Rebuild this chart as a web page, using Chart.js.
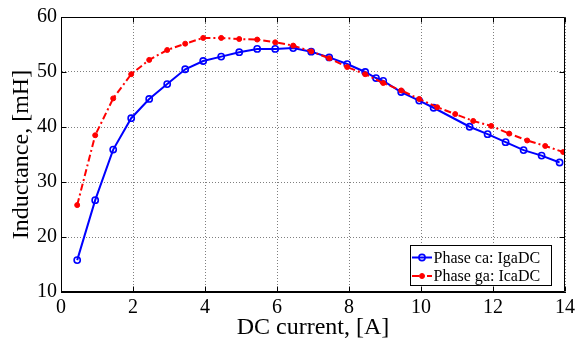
<!DOCTYPE html>
<html>
<head>
<meta charset="utf-8">
<script src="https://cdn.jsdelivr.net/npm/chart.js@4/dist/chart.umd.min.js"></script>
<style>
  html, body { margin: 0; padding: 0; background: #fff; }
  #wrap { width: 579px; height: 340px; position: relative; }
</style>
</head>
<body>
<div id="wrap"><canvas id="c" width="579" height="340"></canvas></div>
<script>
// DC current sweep [A] and measured inductance [mH] for the two phases
const currentCa = [0.45, 0.95, 1.45, 1.95, 2.45, 2.95, 3.45, 3.95, 4.45, 4.95, 5.45, 5.95, 6.45, 6.95,
                   7.45, 7.95, 8.45, 8.75, 8.95, 9.45, 9.95, 10.35, 11.35, 11.85, 12.35, 12.85, 13.35, 13.85];
const inductanceCa = [15.8, 26.7, 35.9, 41.6, 45.1, 47.8, 50.5, 52.0, 52.8, 53.6, 54.2, 54.2, 54.35, 53.7,
                      52.65, 51.45, 50.0, 48.9, 48.4, 46.35, 44.8, 43.5, 40.05, 38.7, 37.25, 35.8, 34.8, 33.55];

const currentGa = [0.45, 0.95, 1.45, 1.95, 2.45, 2.95, 3.45, 3.95, 4.45, 4.95, 5.45, 5.95, 6.45, 6.95,
                   7.45, 7.95, 8.45, 8.95, 9.45, 9.95, 10.45, 10.95, 11.45, 11.95, 12.45, 12.95, 13.45, 13.95];
const inductanceGa = [25.8, 38.5, 45.2, 49.6, 52.2, 54.0, 55.15, 56.2, 56.2, 56.0, 55.9, 55.4, 54.8, 53.75,
                      52.5, 50.9, 49.6, 48.0, 46.65, 45.1, 43.6, 42.35, 41.1, 40.2, 38.8, 37.55, 36.55, 35.45];

const seriesLabels = ['Phase ca: IgaDC', 'Phase ga: IcaDC'];
const xTicks = [0, 2, 4, 6, 8, 10, 12, 14];
const yTicks = [10, 20, 30, 40, 50, 60];

const FONT = '"Liberation Serif", "Times New Roman", serif';

const toPoints = (xs, ys) => xs.map((x, i) => ({ x: x, y: ys[i] }));

// Box frame, inward tick marks and the boxed legend
const framePlugin = {
  id: 'frame',
  afterDatasetsDraw(chart) {
    const { ctx, chartArea: a, scales } = chart;
    ctx.save();
    ctx.strokeStyle = '#000';
    ctx.lineWidth = 1;
    ctx.setLineDash([]);
    const L = Math.round(a.left) + 0.5, R = Math.round(a.right) - 0.5;
    const T = Math.round(a.top) + 0.5, B = Math.round(a.bottom) - 0.5;
    ctx.beginPath();
    ctx.rect(L, T, R - L, B - T);
    ctx.stroke();
    const tl = 5;
    ctx.beginPath();
    xTicks.forEach(v => {
      const px = Math.round(scales.x.getPixelForValue(v)) + 0.5;
      ctx.moveTo(px, B); ctx.lineTo(px, B - tl);
      ctx.moveTo(px, T); ctx.lineTo(px, T + tl);
    });
    yTicks.forEach(v => {
      const py = Math.round(scales.y.getPixelForValue(v)) + 0.5;
      ctx.moveTo(L, py); ctx.lineTo(L + tl, py);
      ctx.moveTo(R, py); ctx.lineTo(R - tl, py);
    });
    ctx.stroke();
    ctx.restore();
  },
  afterDraw(chart) {
    const { ctx, chartArea: a } = chart;
    const w = 141, h = 40;
    const bx = Math.round(a.right - 14 - w) + 0.5;
    const by = Math.round(a.bottom - 7 - h) + 0.5;
    ctx.save();
    ctx.fillStyle = '#fff';
    ctx.fillRect(bx, by, w, h);
    ctx.strokeStyle = '#000';
    ctx.lineWidth = 1;
    ctx.setLineDash([]);
    ctx.strokeRect(bx, by, w, h);
    ctx.font = '16px ' + FONT;
    ctx.textBaseline = 'middle';
    ctx.textAlign = 'left';
    chart.data.datasets.forEach((ds, i) => {
      const ry = by + 12 + i * 18.5;
      const x0 = bx + 1.5, x1 = bx + 21.5, xm = (x0 + x1) / 2;
      ctx.strokeStyle = ds.borderColor;
      ctx.lineWidth = ds.borderWidth;
      ctx.setLineDash(ds.borderDash || []);
      ctx.beginPath();
      ctx.moveTo(x0, ry); ctx.lineTo(x1, ry);
      ctx.stroke();
      ctx.setLineDash([]);
      ctx.beginPath();
      ctx.arc(xm, ry, ds.pointRadius, 0, Math.PI * 2);
      ctx.fillStyle = ds.pointBackgroundColor;
      ctx.fill();
      ctx.lineWidth = ds.pointBorderWidth;
      ctx.strokeStyle = ds.pointBorderColor;
      ctx.stroke();
      ctx.fillStyle = '#000';
      ctx.fillText(ds.label, bx + 23, ry + 1);
    });
    ctx.restore();
  }
};

const gridStyle = {
  color: 'rgba(0,0,0,0.5)',
  lineWidth: 1,
  drawTicks: false
};

new Chart(document.getElementById('c'), {
  type: 'scatter',
  data: {
    datasets: [
      {
        label: seriesLabels[0],
        data: toPoints(currentCa, inductanceCa),
        showLine: true,
        borderColor: '#0000ff',
        borderWidth: 2,
        pointRadius: 3.1,
        pointBorderWidth: 1.6,
        pointBorderColor: '#0000ff',
        pointBackgroundColor: 'rgba(0,0,0,0)',
        order: 1
      },
      {
        label: seriesLabels[1],
        data: toPoints(currentGa, inductanceGa),
        showLine: true,
        borderColor: '#ff0000',
        borderWidth: 2,
        borderDash: [7, 3, 2, 3],
        pointRadius: 2.5,
        pointBorderWidth: 1,
        pointBorderColor: '#ff0000',
        pointBackgroundColor: '#ff0000',
        order: 0
      }
    ]
  },
  options: {
    responsive: false,
    animation: false,
    devicePixelRatio: 1,
    layout: { padding: { left: 0, right: 12, top: 17, bottom: 0 } },
    plugins: { legend: { display: false }, tooltip: { enabled: false } },
    scales: {
      x: {
        type: 'linear',
        min: 0, max: 14,
        afterFit(s) { s.height = 48; },
        afterBuildTicks(s) { s.ticks = xTicks.map(v => ({ value: v })); },
        grid: Object.assign({}, gridStyle),
        border: { display: true, color: '#000', dash: [1, 2] },
        ticks: { color: '#000', padding: 4, maxRotation: 0, font: { family: FONT, size: 20 } },
        title: {
          display: true, text: 'DC current, [A]', color: '#000',
          font: { family: FONT, size: 24, lineHeight: 1 },
          padding: { top: 1, bottom: 0 }
        }
      },
      y: {
        type: 'linear',
        min: 10, max: 60,
        afterFit(s) { s.width = 61; },
        afterBuildTicks(s) { s.ticks = yTicks.map(v => ({ value: v })); },
        grid: Object.assign({}, gridStyle),
        border: { display: true, color: '#000', dash: [1, 2] },
        ticks: { color: '#000', padding: 4, font: { family: FONT, size: 20 } },
        title: {
          display: true, text: 'Inductance, [mH]', color: '#000',
          font: { family: FONT, size: 24, lineHeight: 1 },
          padding: { top: 10, bottom: 0 }
        }
      }
    }
  },
  plugins: [framePlugin]
});
</script>
</body>
</html>
